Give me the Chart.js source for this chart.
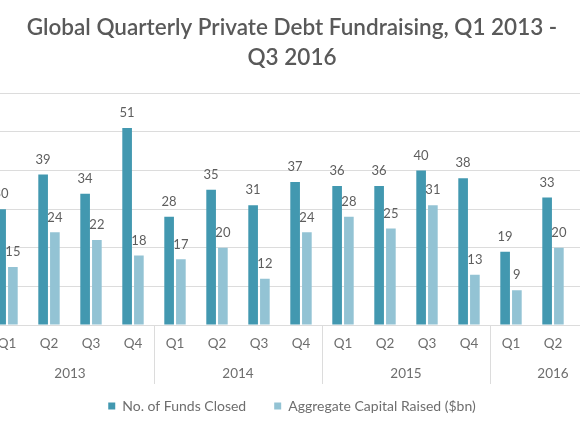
<!DOCTYPE html>
<html>
<head>
<meta charset="utf-8">
<script src="https://cdn.jsdelivr.net/npm/chart.js@4"></script>
<style>
  html, body { margin: 0; padding: 0; background: #fff; overflow: hidden; }
  #wrap { position: absolute; left: -32px; top: 0; width: 648px; height: 435px; }
</style>
</head>
<body>
<div id="wrap"><canvas id="barChart"></canvas></div>
<script>
// Donnees
const quarters = ['Q1', 'Q2', 'Q3', 'Q4', 'Q1', 'Q2', 'Q3', 'Q4', 'Q1', 'Q2', 'Q3', 'Q4', 'Q1', 'Q2', 'Q3'];
const years = ['2013', '2014', '2015', '2016'];
const quartersPerYear = [4, 4, 4, 3];
const fundsClosed = [30, 39, 34, 51, 28, 35, 31, 37, 36, 36, 40, 38, 19, 33, null];
const capitalRaised = [15, 24, 22, 18, 17, 20, 12, 24, 28, 25, 31, 13, 9, 20, null];
const yTicks = [0, 10, 20, 30, 40, 50, 60];

const FONT = 'Lato, "Noto Sans", sans-serif';
const TEXT = '#6e6e6e';
const GRID = '#dcdcdc';

// Etiquettes de valeur au dessus des barres
const valueLabels = {
    id: 'valueLabels',
    afterDatasetsDraw(chart) {
        const ctx = chart.ctx;
        ctx.save();
        ctx.font = '13px ' + FONT;
        ctx.fillStyle = '#5e5e5e';
        ctx.textAlign = 'center';
        ctx.textBaseline = 'middle';
        chart.data.datasets.forEach((ds, i) => {
            chart.getDatasetMeta(i).data.forEach((bar, j) => {
                if (ds.data[j] == null) return;
                ctx.fillText(ds.data[j], bar.x, bar.y - 15);
            });
        });
        ctx.restore();
    }
};

// Axe des annees + separateurs
const yearAxis = {
    id: 'yearAxis',
    afterDraw(chart) {
        const ctx = chart.ctx;
        const x = chart.scales.x;
        const bottom = chart.chartArea.bottom;
        ctx.save();
        ctx.strokeStyle = GRID;
        ctx.lineWidth = 1;
        ctx.font = '13.5px ' + FONT;
        ctx.fillStyle = TEXT;
        ctx.textAlign = 'center';
        ctx.textBaseline = 'middle';
        let start = 0;
        years.forEach((yr, k) => {
            const end = start + quartersPerYear[k] - 1;
            const half = (x.getPixelForValue(1) - x.getPixelForValue(0)) / 2;
            const left = x.getPixelForValue(start) - half;
            const right = x.getPixelForValue(end) + half;
            ctx.fillText(yr, (left + right) / 2, 374);
            if (k > 0) {
                ctx.beginPath();
                ctx.moveTo(Math.round(left) + 0.5, bottom);
                ctx.lineTo(Math.round(left) + 0.5, 384);
                ctx.stroke();
            }
            start = end + 1;
        });
        ctx.restore();
    }
};

new Chart(document.getElementById('barChart'), {
    type: 'bar',
    data: {
        labels: quarters,
        datasets: [{
            label: 'No. of Funds Closed',
            data: fundsClosed,
            backgroundColor: '#4298b0',
            categoryPercentage: 0.56,
            barPercentage: 0.82
        }, {
            label: 'Aggregate Capital Raised ($bn)',
            data: capitalRaised,
            backgroundColor: '#93c3d4',
            categoryPercentage: 0.56,
            barPercentage: 0.82
        }]
    },
    options: {
        responsive: true,
        maintainAspectRatio: false,
        animation: false,
        layout: { padding: { bottom: 12 } },
        plugins: {
            title: {
                display: true,
                text: ['Global Quarterly Private Debt Fundraising, Q1 2013 -', 'Q3 2016'],
                color: '#595959',
                font: { family: FONT, size: 22.5, weight: '600', lineHeight: 1.34 },
                padding: { top: 13, bottom: 20 }
            },
            legend: {
                position: 'bottom',
                labels: {
                    boxWidth: 7,
                    boxHeight: 7,
                    padding: 28,
                    color: TEXT,
                    font: { family: FONT, size: 14 }
                }
            },
            tooltip: { enabled: false }
        },
        scales: {
            x: {
                grid: { display: false, drawTicks: false },
                border: { color: GRID },
                ticks: { color: TEXT, padding: 11, font: { family: FONT, size: 13.5 } },
                afterFit: s => { s.height = 46; }
            },
            y: {
                min: yTicks[0],
                max: yTicks[yTicks.length - 1],
                afterBuildTicks: s => { s.ticks = yTicks.map(v => ({ value: v })); },
                grid: { color: GRID, drawTicks: false },
                border: { display: false },
                ticks: { display: false },
                afterFit: s => { s.width = 18; }
            }
        }
    },
    plugins: [valueLabels, yearAxis]
});
</script>
</body>
</html>
